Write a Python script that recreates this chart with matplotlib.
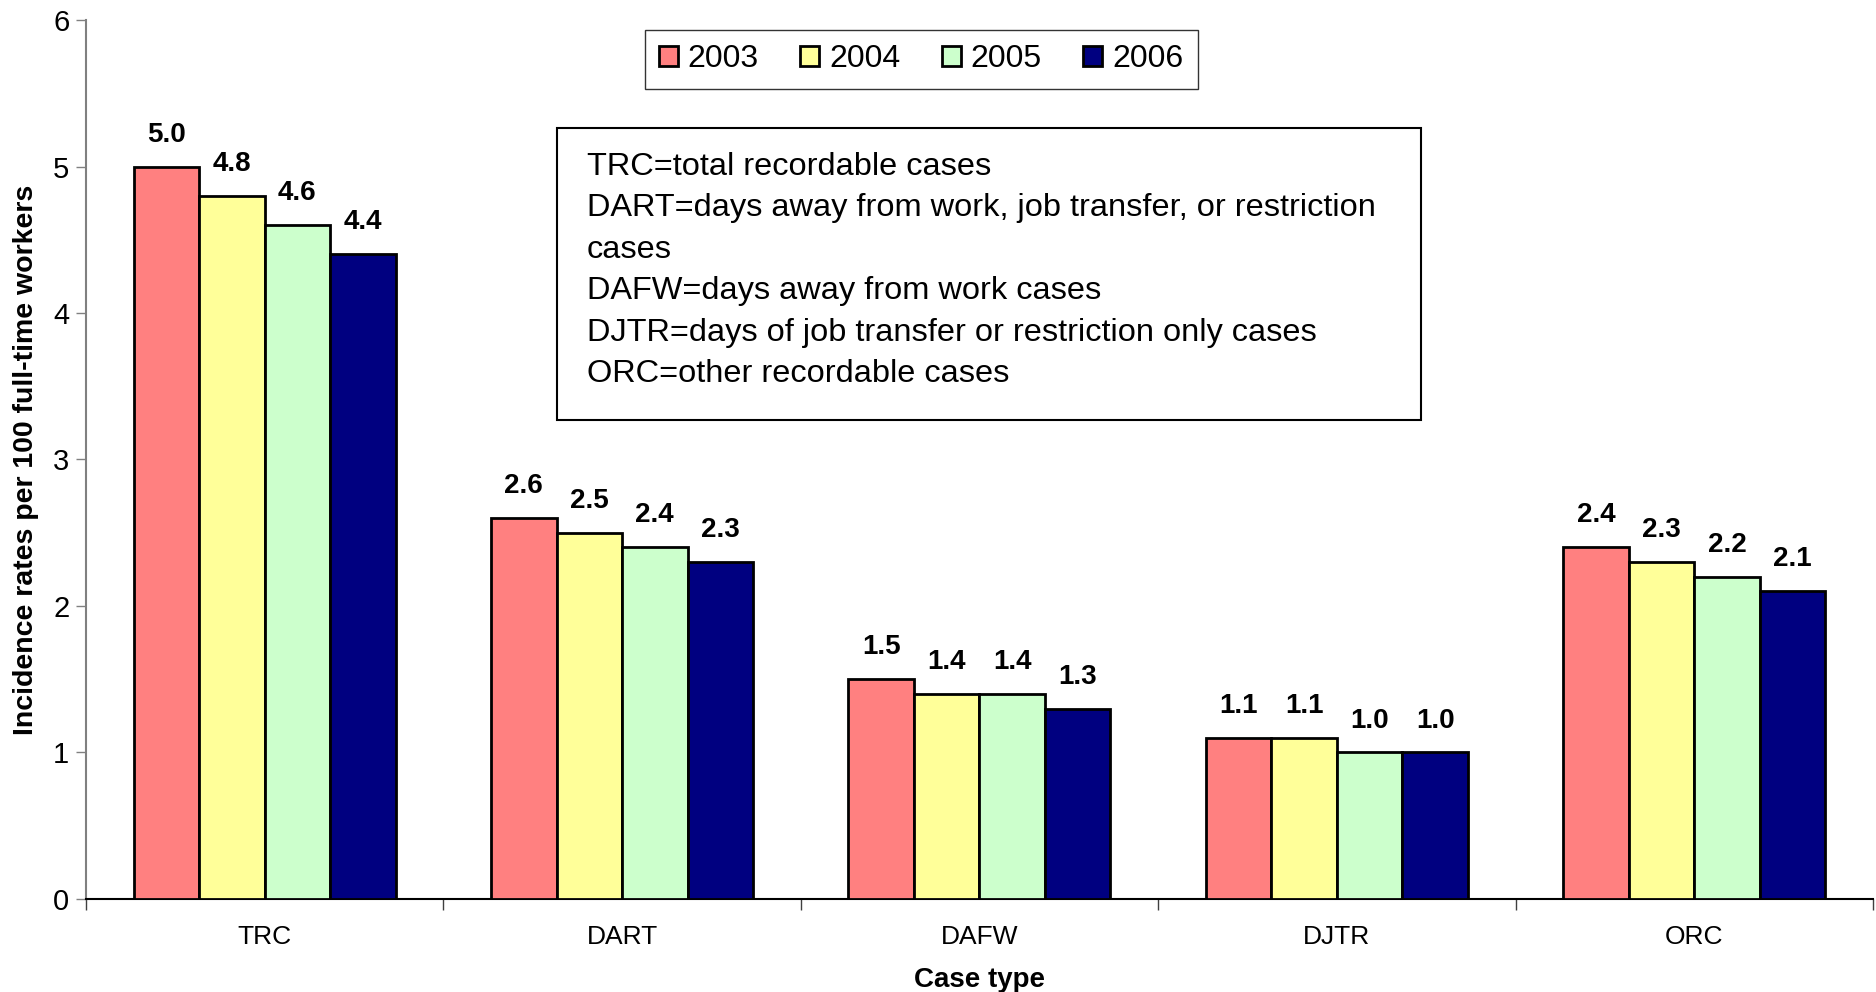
import numpy as np
import matplotlib.pyplot as plt
from matplotlib.patches import Rectangle

plt.rcParams['font.family'] = ['Liberation Sans', 'DejaVu Sans']

categories = ["TRC", "DART", "DAFW", "DJTR", "ORC"]
years = ["2003", "2004", "2005", "2006"]
rate_2003 = [5.0, 2.6, 1.5, 1.1, 2.4]
rate_2004 = [4.8, 2.5, 1.4, 1.1, 2.3]
rate_2005 = [4.6, 2.4, 1.4, 1.0, 2.2]
rate_2006 = [4.4, 2.3, 1.3, 1.0, 2.1]
colors = ["#FF8080", "#FFFF99", "#CCFFCC", "#000080"]

notes = [
    "TRC=total recordable cases",
    "DART=days away from work, job transfer, or restriction",
    "cases",
    "DAFW=days away from work cases",
    "DJTR=days of job transfer or restriction only cases",
    "ORC=other recordable cases",
]

fig = plt.figure(figsize=(18.76, 9.92), dpi=100)
ax = fig.add_axes([0.0458, 0.0938, 0.9526, 0.886])

x = np.arange(len(categories))
series = [rate_2003, rate_2004, rate_2005, rate_2006]
group_w = 0.733
bar_w = group_w / len(series)
for i, (vals, year, col) in enumerate(zip(series, years, colors)):
    pos = x - group_w / 2 + bar_w * (i + 0.5)
    bars = ax.bar(pos, vals, width=bar_w, color=col, edgecolor="black",
                  linewidth=2, label=year, zorder=3)
    for b, v in zip(bars, vals):
        ax.annotate(f"{v:.1f}", (b.get_x() + b.get_width() / 2, v),
                    xytext=(0, 23), textcoords="offset points",
                    ha="center", va="center", fontsize=20, fontweight="bold")

ax.set_xlim(-0.5, len(categories) - 0.5)
ax.set_ylim(0, 6)
ax.set_yticks(range(0, 7))
ax.tick_params(axis="y", labelsize=21, length=7, width=1, color="#808080", pad=5)

# category labels centred, ticks at group boundaries
ax.set_xticks(np.arange(-0.5, len(categories)), minor=False)
ax.set_xticklabels([])
ax.set_xticks(x, minor=True)
ax.set_xticklabels(categories, minor=True, fontsize=19)
ax.tick_params(axis="x", which="major", length=8, width=1, color="#404040")
ax.tick_params(axis="x", which="minor", length=0, pad=19)

for s in ["top", "right"]:
    ax.spines[s].set_visible(False)
ax.spines["left"].set_color("#808080")
ax.spines["left"].set_linewidth(1.5)
ax.spines["bottom"].set_color("black")
ax.spines["bottom"].set_linewidth(1.5)

ax.set_ylabel("Incidence rates per 100 full-time workers", fontsize=20.5,
              fontweight="bold", va="center")
ax.yaxis.set_label_coords(-0.0336, 0.5)
ax.set_xlabel("Case type", fontsize=20, fontweight="bold", va="center")
ax.xaxis.set_label_coords(0.5, -0.092)

leg = ax.legend(loc="upper center", bbox_to_anchor=(0.4673, 0.9886), ncol=4,
                fontsize=23, frameon=True, fancybox=False, edgecolor="black",
                handlelength=0.6, handleheight=0.6, handletextpad=0.3,
                columnspacing=1.3, borderpad=0.45, borderaxespad=0)
leg.get_frame().set_linewidth(1)

fig.add_artist(Rectangle((0.2969, 0.5766), 0.4606, 0.2944,
                         transform=fig.transFigure, facecolor="white",
                         edgecolor="black", linewidth=1.5, zorder=5))
fig.text(0.3129, 0.847, "\n".join(notes), fontsize=23.4, va="top", ha="left",
         linespacing=1.5, zorder=6)

fig.savefig("out.png", dpi=100)
